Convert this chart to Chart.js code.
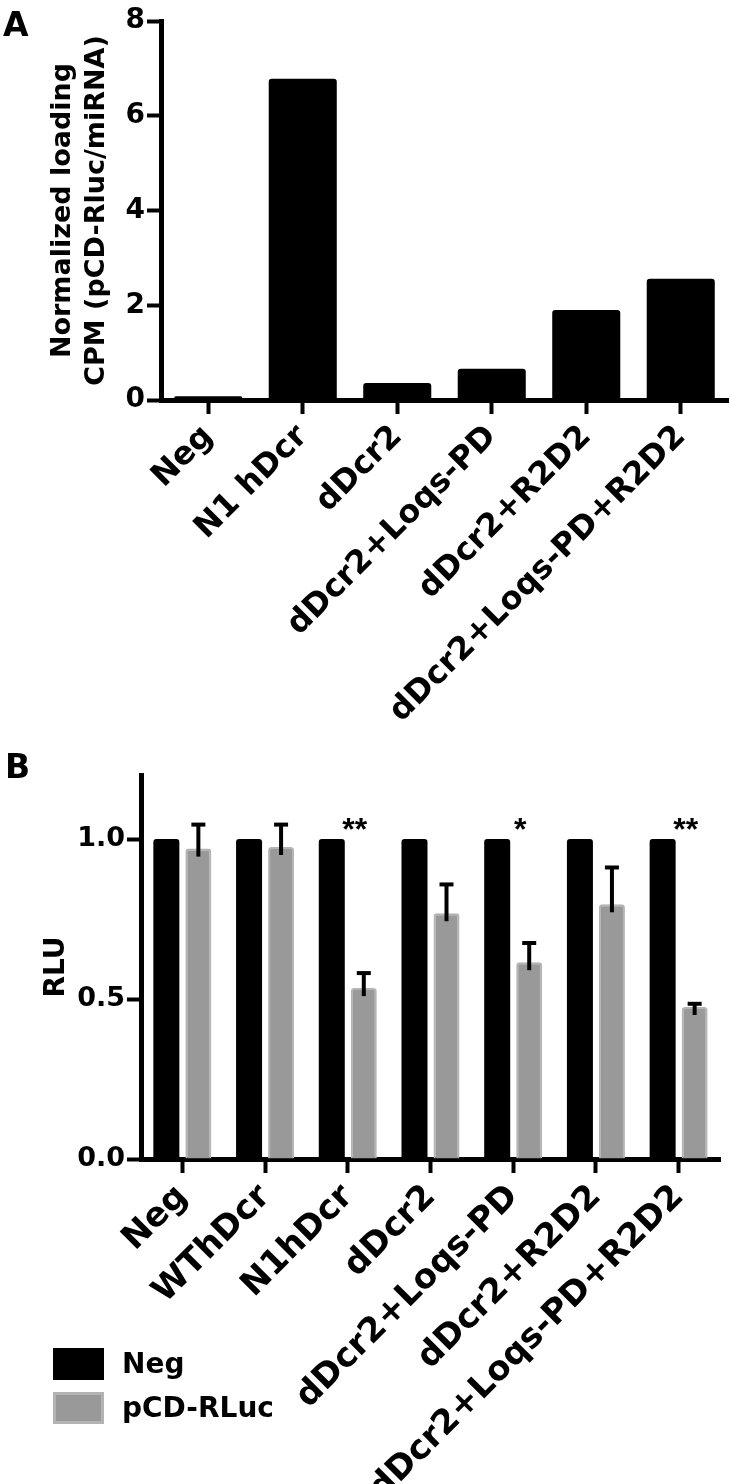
<!DOCTYPE html>
<html>
<head>
<meta charset="utf-8">
<script src="https://cdn.jsdelivr.net/npm/chart.js@4.4.1/dist/chart.umd.min.js"></script>
<style>
  html, body { margin: 0; padding: 0; background: #fff; }
  body { width: 730px; height: 1484px; position: relative; overflow: hidden;
         font-family: "DejaVu Sans", "Liberation Sans", Arial, sans-serif; }
  .wrap { position: absolute; left: 0; }
  #wa { top: 0; width: 730px; height: 760px; }
  #wb { top: 660px; width: 730px; height: 824px; }
  .panel { position: absolute; font-weight: bold; font-size: 33px; line-height: 1; color: #000; }
  .leg { position: absolute; left: 53px; display: flex; align-items: center; }
  .sw { width: 51px; height: 32px; box-sizing: border-box; margin-right: 18px; }
  .lt { font-weight: bold; font-size: 28px; color: #000; }
</style>
</head>
<body>
<div class="wrap" id="wa"><canvas id="ca" width="730" height="760"></canvas></div>
<div class="wrap" id="wb"><canvas id="cb" width="730" height="824"></canvas></div>
<div class="panel" style="left:3px;top:8px;">A</div>
<div class="panel" style="left:5px;top:750px;">B</div>
<div id="legend"></div>
<script>
// ---------- Panel A data ----------
const catsA = ['Neg', 'N1 hDcr', 'dDcr2', 'dDcr2+Loqs-PD', 'dDcr2+R2D2', 'dDcr2+Loqs-PD+R2D2'];
const valsA = [0.08, 6.78, 0.36, 0.66, 1.9, 2.56];
const ticksA = [0, 2, 4, 6, 8];
const titleA = ['Normalized loading', 'CPM (pCD-Rluc/miRNA)'];

// ---------- Panel B data ----------
const catsB = ['Neg', 'WThDcr', 'N1hDcr', 'dDcr2', 'dDcr2+Loqs-PD', 'dDcr2+R2D2', 'dDcr2+Loqs-PD+R2D2'];
const seriesB = ['Neg', 'pCD-RLuc'];
const negB = [1, 1, 1, 1, 1, 1, 1];
const rlucB = [0.97, 0.975, 0.534, 0.768, 0.615, 0.796, 0.475];
const rlucErrB = [0.075, 0.07, 0.047, 0.09, 0.06, 0.115, 0.01];
const ticksB = [0, 0.5, 1.0];
const starCats = ['N1hDcr', 'dDcr2+Loqs-PD', 'dDcr2+Loqs-PD+R2D2'];
const starText = ['**', '*', '**'];

const FONT = '"DejaVu Sans", "Liberation Sans", Arial, sans-serif';
Chart.defaults.font.family = FONT;
Chart.defaults.color = '#000';

const errorBars = {
  id: 'errorBars',
  afterDatasetsDraw(chart) {
    const ctx = chart.ctx;
    const ys = chart.scales.y;
    chart.data.datasets.forEach((ds, di) => {
      if (!ds.errors) return;
      const meta = chart.getDatasetMeta(di);
      meta.data.forEach((bar, i) => {
        const e = ds.errors[i];
        const top = ys.getPixelForValue(ds.data[i] + e);
        ctx.save();
        ctx.strokeStyle = '#000';
        ctx.lineWidth = 4;
        ctx.beginPath();
        ctx.moveTo(bar.x, bar.y + 8);
        ctx.lineTo(bar.x, top);
        ctx.stroke();
        ctx.beginPath();
        ctx.moveTo(bar.x - 7, top);
        ctx.lineTo(bar.x + 7, top);
        ctx.stroke();
        ctx.restore();
      });
    });
  }
};

const stars = {
  id: 'stars',
  afterDatasetsDraw(chart) {
    const ctx = chart.ctx;
    const xs = chart.scales.x, ys = chart.scales.y;
    ctx.save();
    ctx.fillStyle = '#000';
    ctx.font = 'bold 32px "Liberation Sans", Arial, sans-serif';
    ctx.textAlign = 'center';
    ctx.textBaseline = 'middle';
    starCats.forEach((c, k) => {
      const x = xs.getPixelForValue(catsB.indexOf(c)) + 7;
      const y = ys.getPixelForValue(1.04);
      ctx.fillText(starText[k], x, y + 5);
    });
    ctx.restore();
  }
};

function axisCommon() {
  return {
    border: { display: true, color: '#000', width: 5 },
    grid: { display: true, drawOnChartArea: false, drawTicks: true, tickLength: 14, tickWidth: 4, tickColor: '#000', offset: false }
  };
}

// ---------- Chart A ----------
new Chart(document.getElementById('ca'), {
  type: 'bar',
  data: {
    labels: catsA,
    datasets: [{
      label: 'CPM',
      data: valsA,
      backgroundColor: '#000',
      borderColor: '#000',
      borderWidth: 0,
      borderRadius: 3,
      barPercentage: 0.72,
      categoryPercentage: 1.0
    }]
  },
  options: {
    responsive: false,
    animation: false,
    layout: { padding: { left: 0, right: 2, top: 21, bottom: 0 } },
    plugins: { legend: { display: false }, tooltip: { enabled: false } },
    scales: {
      x: Object.assign(axisCommon(), {
        ticks: { autoSkip: false, maxRotation: 45, minRotation: 45, padding: 4,
                 font: { size: 32, weight: 'bold' }, color: '#000' },
        afterFit(s) { s.height = 360; }
      }),
      y: Object.assign(axisCommon(), {
        min: 0, max: 8,
        afterBuildTicks(s) { s.ticks = ticksA.map(v => ({ value: v })); },
        ticks: { padding: 2, font: { size: 28, weight: 'bold' }, color: '#000' },
        title: { display: true, text: titleA, color: '#000',
                 font: { size: 27, weight: 'bold', lineHeight: 1.26 }, padding: { top: 46, bottom: 0 } },
        afterFit(s) { s.width = 161; }
      })
    }
  }
});

// ---------- Chart B ----------
new Chart(document.getElementById('cb'), {
  type: 'bar',
  data: {
    labels: catsB,
    datasets: [
      { label: seriesB[0], data: negB, backgroundColor: '#000', borderColor: '#000', borderWidth: 0,
        borderRadius: 3, barPercentage: 0.8125, categoryPercentage: 0.774 },
      { label: seriesB[1], data: rlucB, errors: rlucErrB, backgroundColor: '#999999', borderColor: '#b4b4b4',
        borderWidth: 2, borderSkipped: 'start', borderRadius: 3, barPercentage: 0.8125, categoryPercentage: 0.774 }
    ]
  },
  options: {
    responsive: false,
    animation: false,
    layout: { padding: { left: 0, right: 10, top: 115, bottom: 0 } },
    plugins: { legend: { display: false }, tooltip: { enabled: false } },
    scales: {
      x: Object.assign(axisCommon(), {
        ticks: { autoSkip: false, maxRotation: 45, minRotation: 45, padding: 4,
                 font: { size: 34, weight: 'bold' }, color: '#000' },
        afterFit(s) { s.height = 325; }
      }),
      y: Object.assign(axisCommon(), {
        min: 0, max: 1.2,
        afterBuildTicks(s) { s.ticks = ticksB.map(v => ({ value: v })); },
        ticks: { padding: 2, font: { size: 27, weight: 'bold' }, color: '#000',
                 callback: v => Number(v).toFixed(1) },
        title: { display: true, text: 'RLU', color: '#000',
                 font: { size: 28, weight: 'bold', lineHeight: 1.2 }, padding: { top: 40, bottom: 0 } },
        afterFit(s) { s.width = 141; }
      })
    }
  },
  plugins: [errorBars, stars]
});

// ---------- Legend B (HTML, from dataset styles) ----------
(function () {
  const leg = document.getElementById('legend');
  const styles = [
    { bg: '#000', border: '#000', top: 1347 },
    { bg: '#999999', border: '#b4b4b4', top: 1391 }
  ];
  seriesB.forEach((name, i) => {
    const row = document.createElement('div');
    row.className = 'leg';
    row.style.top = styles[i].top + 'px';
    const sw = document.createElement('div');
    sw.className = 'sw';
    sw.style.background = styles[i].bg;
    sw.style.border = '3px solid ' + styles[i].border;
    const t = document.createElement('span');
    t.className = 'lt';
    t.textContent = name;
    row.appendChild(sw);
    row.appendChild(t);
    leg.appendChild(row);
  });
})();
</script>
</body>
</html>
